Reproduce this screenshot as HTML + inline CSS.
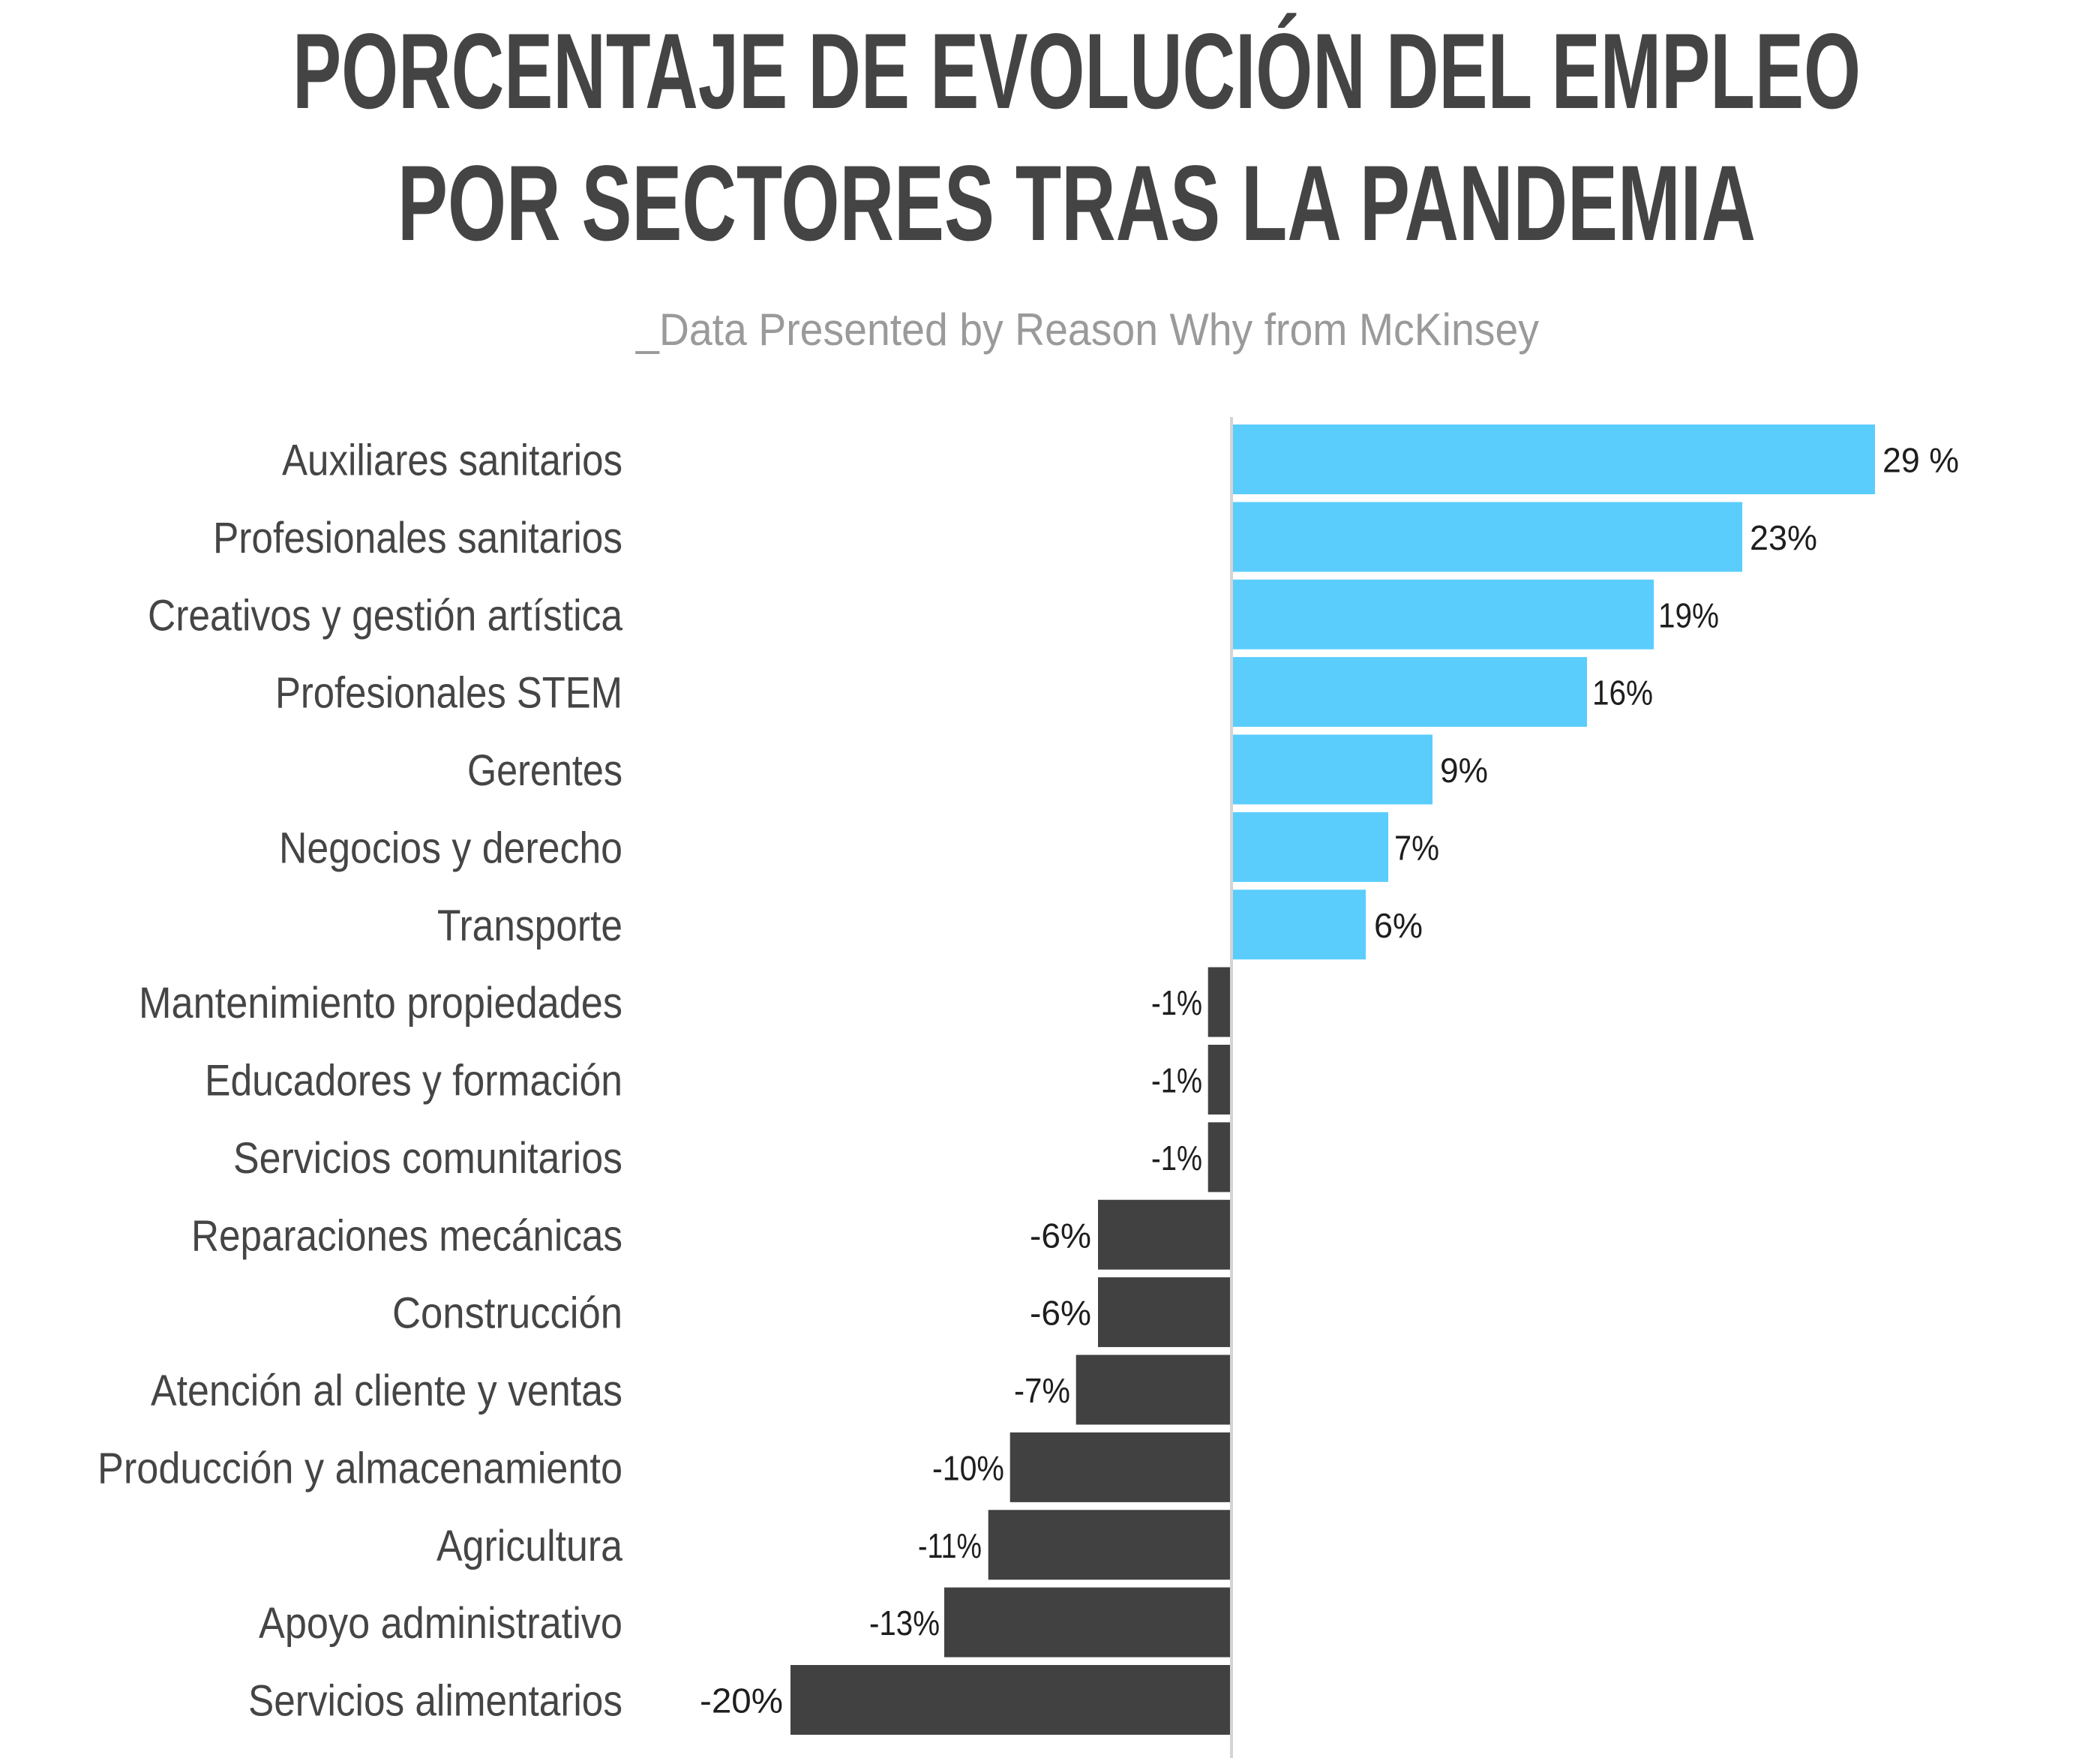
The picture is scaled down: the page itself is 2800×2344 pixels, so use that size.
<!DOCTYPE html>
<html>
<head>
<meta charset="utf-8">
<style>
  html, body { margin: 0; padding: 0; background: #ffffff; }
  body { width: 2800px; height: 2344px; overflow: hidden; }
  svg { display: block; }
  .t { font-family: "Liberation Sans", sans-serif; font-weight: bold; fill: #444444; }
  .sub { font-family: "Liberation Sans", sans-serif; fill: #9a9a9a; }
  .cat { font-family: "Liberation Sans", sans-serif; fill: #454545; font-size: 58px; }
  .val { font-family: "Liberation Sans", sans-serif; fill: #1e1e1e; font-size: 46px; }
</style>
</head>
<body>
<svg width="2800" height="2344" viewBox="0 0 2800 2344" xmlns="http://www.w3.org/2000/svg">
  <rect x="0" y="0" width="2800" height="2344" fill="#ffffff"/>

  <!-- Title -->
  <text class="t" x="390" y="144" font-size="143" textLength="2091" lengthAdjust="spacingAndGlyphs">PORCENTAJE DE EVOLUCIÓN DEL EMPLEO</text>
  <text class="t" x="530" y="320" font-size="143" textLength="1811" lengthAdjust="spacingAndGlyphs">POR SECTORES TRAS LA PANDEMIA</text>

  <!-- Subtitle -->
  <text class="sub" x="848" y="460" font-size="60" textLength="1204" lengthAdjust="spacingAndGlyphs">_Data Presented by Reason Why from McKinsey</text>

  <!-- Axis line -->
  <rect x="1640" y="556" width="4" height="1788" fill="#d4d4d4"/>

  <!-- Positive bars -->
  <rect x="1644" y="566"     width="856" height="93" fill="#5bcdfd"/>
  <rect x="1644" y="669.4"   width="679" height="93" fill="#5bcdfd"/>
  <rect x="1644" y="772.75"  width="561" height="93" fill="#5bcdfd"/>
  <rect x="1644" y="876.1"   width="472" height="93" fill="#5bcdfd"/>
  <rect x="1644" y="979.5"   width="266" height="93" fill="#5bcdfd"/>
  <rect x="1644" y="1082.9"  width="207" height="93" fill="#5bcdfd"/>
  <rect x="1644" y="1186.25" width="177" height="93" fill="#5bcdfd"/>

  <!-- Negative bars -->
  <rect x="1610.7" y="1289.6"  width="29.3"  height="93" fill="#414141"/>
  <rect x="1610.7" y="1393"    width="29.3"  height="93" fill="#414141"/>
  <rect x="1610.7" y="1496.4"  width="29.3"  height="93" fill="#414141"/>
  <rect x="1464"   y="1599.75" width="176"   height="93" fill="#414141"/>
  <rect x="1464"   y="1703.1"  width="176"   height="93" fill="#414141"/>
  <rect x="1434.7" y="1806.5"  width="205.3" height="93" fill="#414141"/>
  <rect x="1346.7" y="1909.9"  width="293.3" height="93" fill="#414141"/>
  <rect x="1317.7" y="2013.25" width="322.3" height="93" fill="#414141"/>
  <rect x="1259"   y="2116.6"  width="381"   height="93" fill="#414141"/>
  <rect x="1054"   y="2220"    width="586"   height="93" fill="#414141"/>

  <!-- Category labels -->
  <text class="cat" x="376" y="633.5"  textLength="454" lengthAdjust="spacingAndGlyphs">Auxiliares sanitarios</text>
  <text class="cat" x="284" y="736.9"  textLength="546" lengthAdjust="spacingAndGlyphs">Profesionales sanitarios</text>
  <text class="cat" x="197" y="840.25" textLength="633" lengthAdjust="spacingAndGlyphs">Creativos y gestión artística</text>
  <text class="cat" x="367" y="943.6"  textLength="463" lengthAdjust="spacingAndGlyphs">Profesionales STEM</text>
  <text class="cat" x="623" y="1047"   textLength="207" lengthAdjust="spacingAndGlyphs">Gerentes</text>
  <text class="cat" x="372" y="1150.4" textLength="458" lengthAdjust="spacingAndGlyphs">Negocios y derecho</text>
  <text class="cat" x="583" y="1253.75" textLength="247" lengthAdjust="spacingAndGlyphs">Transporte</text>
  <text class="cat" x="185" y="1357.1" textLength="645" lengthAdjust="spacingAndGlyphs">Mantenimiento propiedades</text>
  <text class="cat" x="273" y="1460.5" textLength="557" lengthAdjust="spacingAndGlyphs">Educadores y formación</text>
  <text class="cat" x="311" y="1563.9" textLength="519" lengthAdjust="spacingAndGlyphs">Servicios comunitarios</text>
  <text class="cat" x="255" y="1667.25" textLength="575" lengthAdjust="spacingAndGlyphs">Reparaciones mecánicas</text>
  <text class="cat" x="523" y="1770.6" textLength="307" lengthAdjust="spacingAndGlyphs">Construcción</text>
  <text class="cat" x="201" y="1874"   textLength="629" lengthAdjust="spacingAndGlyphs">Atención al cliente y ventas</text>
  <text class="cat" x="130" y="1977.4" textLength="700" lengthAdjust="spacingAndGlyphs">Producción y almacenamiento</text>
  <text class="cat" x="582" y="2080.75" textLength="248" lengthAdjust="spacingAndGlyphs">Agricultura</text>
  <text class="cat" x="345" y="2184.1" textLength="485" lengthAdjust="spacingAndGlyphs">Apoyo administrativo</text>
  <text class="cat" x="331" y="2287.5" textLength="499" lengthAdjust="spacingAndGlyphs">Servicios alimentarios</text>

  <!-- Value labels -->
  <text class="val" x="2510" y="629.5"  textLength="102" lengthAdjust="spacingAndGlyphs">29 %</text>
  <text class="val" x="2333" y="732.9"  textLength="90" lengthAdjust="spacingAndGlyphs">23%</text>
  <text class="val" x="2211" y="836.25" textLength="81" lengthAdjust="spacingAndGlyphs">19%</text>
  <text class="val" x="2123" y="939.6"  textLength="81" lengthAdjust="spacingAndGlyphs">16%</text>
  <text class="val" x="1920" y="1043"   textLength="64" lengthAdjust="spacingAndGlyphs">9%</text>
  <text class="val" x="1859" y="1146.4" textLength="60" lengthAdjust="spacingAndGlyphs">7%</text>
  <text class="val" x="1832" y="1249.75" textLength="65" lengthAdjust="spacingAndGlyphs">6%</text>
  <text class="val" x="1535" y="1353.1" textLength="68" lengthAdjust="spacingAndGlyphs">-1%</text>
  <text class="val" x="1535" y="1456.5" textLength="68" lengthAdjust="spacingAndGlyphs">-1%</text>
  <text class="val" x="1535" y="1559.9" textLength="68" lengthAdjust="spacingAndGlyphs">-1%</text>
  <text class="val" x="1373" y="1663.25" textLength="82" lengthAdjust="spacingAndGlyphs">-6%</text>
  <text class="val" x="1373" y="1766.6" textLength="82" lengthAdjust="spacingAndGlyphs">-6%</text>
  <text class="val" x="1352" y="1870"   textLength="75" lengthAdjust="spacingAndGlyphs">-7%</text>
  <text class="val" x="1243" y="1973.4" textLength="96" lengthAdjust="spacingAndGlyphs">-10%</text>
  <text class="val" x="1224" y="2076.75" textLength="85" lengthAdjust="spacingAndGlyphs">-11%</text>
  <text class="val" x="1159" y="2180.1" textLength="94" lengthAdjust="spacingAndGlyphs">-13%</text>
  <text class="val" x="933"  y="2283.5" textLength="111" lengthAdjust="spacingAndGlyphs">-20%</text>
</svg>
</body>
</html>
